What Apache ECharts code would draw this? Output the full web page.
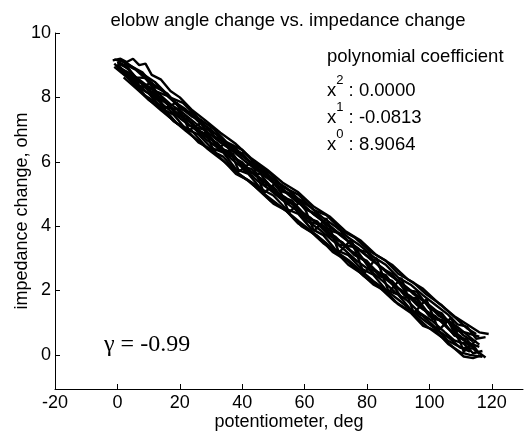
<!DOCTYPE html>
<html>
<head>
<meta charset="utf-8">
<script src="https://cdn.jsdelivr.net/npm/echarts@6/dist/echarts.min.js"></script>
<style>html,body{margin:0;padding:0;background:#fff}#c{width:529px;height:434px}</style>
</head>
<body>
<div id="c"></div>
<script>
const titleText = 'elobw angle change vs. impedance change';
const xName = 'potentiometer, deg';
const yName = 'impedance change, ohm';
const xTicks = [-20, 0, 20, 40, 60, 80, 100, 120];
const yTicks = [0, 2, 4, 6, 8, 10];
const coefLabels = ['2', '1', '0'];
const coefValues = ['0.0000', '-0.0813', '8.9064'];
const gammaText = 'γ = -0.99';

const trace1 = [[-1,9.18],[3,9.07],[8,8.73],[12,8.48],[17,7.99],[21,7.83],[26,7.35],[31,7.01],[35,6.61],[40,6.37],[44,5.96],[49,5.63],[53,5.22],[58,4.98],[63,4.50],[67,4.34],[72,3.86],[76,3.65],[81,3.21],[86,2.93],[90,2.52],[95,2.24],[99,1.88],[104,1.54],[108,1.18],[112,0.83],[115,0.65]];
const trace2 = [[117,-0.06],[113,0.00],[110,0.08],[106,0.34],[102,0.75],[98,0.90],[94,1.31],[90,1.57],[86,1.98],[82,2.19],[78,2.54],[74,2.80],[70,3.21],[66,3.47],[62,3.83],[58,4.08],[54,4.49],[50,4.70],[46,5.06],[42,5.42],[38,5.62],[34,6.03],[30,6.39],[26,6.60],[22,7.01],[18,7.26],[14,7.67],[10,7.93],[6,8.34],[2,8.75]];
const trace3 = [[0,9.10],[4,8.84],[7,8.36],[11,8.25],[15,7.70],[19,7.64],[23,7.13],[28,6.99],[32,6.44],[37,6.25],[41,5.69],[46,5.61],[51,4.97],[56,4.79],[61,4.15],[66,4.02],[71,3.43],[76,3.35],[81,2.66],[86,2.48],[91,1.79],[96,1.76],[101,1.12],[106,1.04],[110,0.38],[114,0.32],[116,0.02]];
const trace4 = [[116,0.57],[112,0.68],[108,0.78],[104,1.29],[100,1.45],[96,1.96],[92,2.02],[88,2.52],[84,2.73],[80,3.19],[76,3.30],[72,3.76],[68,3.86],[64,4.37],[60,4.53],[56,4.99],[52,5.10],[48,5.60],[44,5.81],[40,6.27],[36,6.38],[32,6.84],[28,7.04],[24,7.50],[20,7.66],[16,8.12],[12,8.33],[8,8.78],[4,8.99],[1,9.17]];
const trace5 = [[2,8.80],[6,8.34],[10,8.13],[14,7.67],[18,7.46],[22,7.01],[26,6.85],[30,6.44],[34,6.28],[38,5.77],[42,5.62],[46,5.16],[50,4.95],[54,4.54],[58,4.38],[62,3.93],[66,3.72],[70,3.26],[74,3.10],[78,2.69],[82,2.49],[86,2.03],[90,1.87],[94,1.41],[98,1.20],[102,0.85],[106,0.44],[110,0.23],[113,0.10]];
const trace6 = [[115,0.45],[111,0.10],[107,1.16],[103,0.77],[99,1.73],[95,1.29],[91,2.39],[87,1.95],[83,3.01],[79,2.52],[75,3.58],[71,3.18],[67,4.24],[63,3.85],[59,4.81],[55,4.42],[51,5.37],[47,5.03],[43,5.99],[39,5.70],[35,6.61],[31,6.31],[27,7.22],[23,6.98],[19,7.84],[15,7.65],[11,8.45],[7,8.31],[3,8.97],[0,9.10]];
const trace7 = [[0,8.95],[5,8.70],[9,8.40],[13,8.13],[17,7.79],[21,7.52],[25,7.20],[29,6.91],[33,6.60],[37,6.33],[41,6.01],[45,5.72],[49,5.42],[53,5.13],[57,4.79],[61,4.52],[65,4.21],[69,3.90],[73,3.60],[77,3.32],[81,2.98],[85,2.70],[89,2.36],[93,2.08],[97,1.78],[101,1.47],[105,1.14],[109,0.87],[113,0.55],[116,0.32]];
const trace8 = [[118,-0.08],[114,0.20],[110,0.22],[106,0.55],[102,0.80],[98,1.10],[94,1.40],[90,1.72],[86,2.02],[82,2.30],[78,2.62],[74,2.95],[70,3.22],[66,3.55],[62,3.86],[58,4.16],[54,4.48],[50,4.78],[46,5.08],[42,5.40],[38,5.70],[34,6.02],[30,6.32],[26,6.64],[22,6.95],[18,7.28],[14,7.60],[10,7.93],[6,8.28],[2,8.62]];
const trace9 = [[-1.5,9.15],[1,9.20],[3,9.10],[5,9.20],[7,9.00],[9,9.05],[11,8.70],[14,8.55],[17,8.20],[20,8.00],[24,7.60],[28,7.30],[33,6.90],[38,6.55],[43,6.10],[48,5.75],[53,5.35],[58,5.05],[63,4.60],[68,4.30],[73,3.85],[78,3.55],[83,3.10],[88,2.80],[93,2.35],[98,2.05],[103,1.60],[108,1.20],[112,0.95],[116,0.70],[119,0.65]];
const trace10 = [[-1,8.95],[4,8.55],[9,8.05],[14,7.75],[19,7.20],[24,6.95],[29,6.40],[34,6.15],[39,5.60],[44,5.30],[49,4.80],[54,4.50],[59,4.00],[64,3.70],[69,3.20],[74,2.90],[79,2.45],[84,2.10],[89,1.65],[94,1.35],[99,0.90],[104,0.55],[108,0.20],[111,-0.05],[114,-0.10],[117,0.00]];
const trace11 = [[116,0.25],[112,0.40],[108,0.62],[104,1.02],[100,1.28],[96,1.55],[92,1.95],[88,2.20],[84,2.52],[80,2.88],[76,3.12],[72,3.50],[68,3.72],[64,4.10],[60,4.36],[56,4.72],[52,4.95],[48,5.36],[44,5.58],[40,5.98],[36,6.20],[32,6.58],[28,6.80],[24,7.20],[20,7.42],[16,7.80],[12,8.05],[8,8.42],[4,8.66],[0,9.02]];
const trace12 = [[1,8.88],[5,8.55],[8,8.45],[12,8.00],[15,7.92],[19,7.50],[22,7.40],[26,6.95],[29,6.85],[33,6.40],[36,6.32],[40,5.85],[43,5.78],[47,5.30],[50,5.22],[54,4.75],[57,4.68],[61,4.25],[64,4.15],[68,3.70],[72,3.50],[76,3.10],[80,2.92],[84,2.45],[88,2.30],[92,1.85],[96,1.72],[100,1.20],[104,1.08],[108,0.60],[112,0.48],[115,0.10]];
const trace13 = [[0,9.05],[3,8.95],[6,8.62],[9,8.60],[12,8.20],[16,8.05],[20,7.70],[24,7.40],[27,7.25],[31,6.80],[35,6.55],[39,6.25],[43,5.95],[47,5.65],[51,5.30],[55,5.00],[59,4.72],[63,4.36],[67,4.10],[71,3.78],[75,3.45],[79,3.15],[83,2.85],[87,2.50],[91,2.25],[95,1.88],[99,1.60],[103,1.22],[107,0.98],[111,0.60],[114,0.42]];
const trace14 = [[117,0.12],[114,0.05],[111,0.35],[108,0.45],[105,0.70],[101,1.05],[97,1.30],[93,1.68],[89,1.95],[85,2.30],[81,2.62],[77,2.90],[73,3.25],[69,3.55],[65,3.88],[61,4.15],[57,4.52],[53,4.80],[49,5.12],[45,5.40],[41,5.75],[37,6.05],[33,6.38],[29,6.65],[25,7.00],[21,7.28],[17,7.58],[13,7.90],[9,8.20],[5,8.52],[1,8.80]];
const trace15 = [[-1,9.05],[2,8.78],[6,8.58],[10,8.22],[14,7.98],[18,7.58],[22,7.33],[26,6.98],[30,6.73],[34,6.36],[38,6.10],[42,5.73],[46,5.48],[50,5.12],[54,4.88],[58,4.50],[62,4.25],[66,3.90],[70,3.66],[74,3.28],[78,3.05],[82,2.66],[86,2.43],[90,2.05],[94,1.82],[98,1.42],[102,1.20],[106,0.82],[110,0.58],[113,0.25]];
const trace16 = [[118,0.55],[115,0.50],[112,0.88],[109,0.95],[106,1.25],[102,1.55],[98,1.85],[94,2.18],[90,2.40],[86,2.80],[82,3.05],[78,3.38],[74,3.65],[70,3.98],[66,4.25],[62,4.58],[58,4.85],[54,5.20],[50,5.45],[46,5.80],[42,6.05],[38,6.40],[34,6.65],[30,7.00],[26,7.25],[22,7.62],[18,7.88],[14,8.25],[10,8.50],[6,8.85],[2,9.05]];

const traces = [trace1, trace2, trace3, trace4, trace5, trace6, trace7, trace8, trace9, trace10, trace11, trace12, trace13, trace14, trace15, trace16];

const FONT = '"Liberation Sans", Arial, sans-serif';
const chart = echarts.init(document.getElementById('c'), null, {renderer: 'canvas'});

const coefGraphics = coefLabels.map((p, i) => ({
  type: 'text', left: 327, top: 74 + i * 27,
  style: {
    text: '{b|x}{s|' + p + '}{b| : ' + coefValues[i] + '}',
    rich: {
      b: {fontSize: 18.5, fontFamily: FONT, fill: '#000', lineHeight: 26, verticalAlign: 'bottom'},
      s: {fontSize: 13, fontFamily: FONT, fill: '#000', lineHeight: 13, verticalAlign: 'top'}
    }
  }
}));

chart.setOption({
  animation: false,
  backgroundColor: '#fff',
  title: {
    text: titleText, left: 283, top: 6, textAlign: 'center',
    textStyle: {fontSize: 18.5, fontWeight: 'normal', fontFamily: FONT, color: '#000'}
  },
  grid: {left: 55, right: 6, top: 33, bottom: 45, containLabel: false, outerBoundsMode: 'none'},
  xAxis: {
    type: 'value', min: -20, max: 130, interval: 20,
    name: xName, nameLocation: 'middle', nameGap: 24, nameMoveOverlap: false,
    nameTextStyle: {fontSize: 18, fontFamily: FONT, color: '#000'},
    axisLine: {show: true, onZero: false, lineStyle: {color: '#000', width: 1}},
    axisTick: {show: true, inside: true, length: 5, lineStyle: {color: '#000'}, customValues: xTicks},
    axisLabel: {fontSize: 18, fontFamily: FONT, color: '#000', margin: 5, customValues: xTicks},
    splitLine: {show: false}
  },
  yAxis: {
    type: 'value', min: -1.06, max: 10,
    name: yName, nameLocation: 'middle', nameGap: 24, nameRotate: 90, nameMoveOverlap: false,
    nameTextStyle: {fontSize: 18, fontFamily: FONT, color: '#000'},
    axisLine: {show: true, onZero: false, lineStyle: {color: '#000', width: 1}},
    axisTick: {show: true, inside: true, length: 5, lineStyle: {color: '#000'}, customValues: yTicks},
    axisLabel: {fontSize: 18, fontFamily: FONT, color: '#000', margin: 4, customValues: yTicks},
    splitLine: {show: false}
  },
  graphic: [
    {type: 'text', left: 327, top: 47, style: {text: 'polynomial coefficient', fontSize: 18.5, fontFamily: FONT, fill: '#000'}},
    ...coefGraphics,
    {type: 'text', left: 104, top: 333, style: {text: gammaText, fontSize: 24, fontFamily: '"Liberation Serif", "Times New Roman", serif', fill: '#000'}}
  ],
  series: traces.map(t => ({
    type: 'line', data: t, symbol: 'none', silent: true,
    lineStyle: {color: '#000', width: 2.4}
  }))
});
</script>
</body>
</html>
